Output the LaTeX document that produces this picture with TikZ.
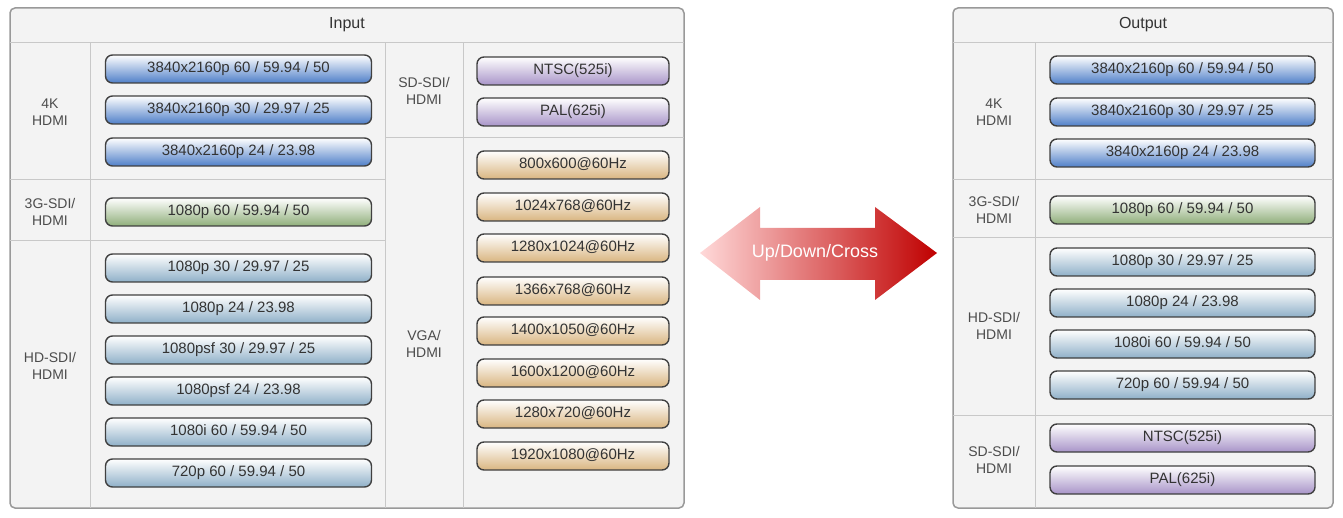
\documentclass[tikz,border=0pt]{standalone}
\usepackage{fontspec}
\setmainfont{Liberation Sans}
\definecolor{cellbg}{HTML}{F3F3F3}
\definecolor{gridc}{HTML}{C8C8C8}
\definecolor{bluep}{HTML}{4F7FC8}
\definecolor{greenp}{HTML}{8FAE7A}
\definecolor{hdp}{HTML}{8FB0C8}
\definecolor{purp}{HTML}{A894C8}
\definecolor{tanp}{HTML}{D9B580}
\tikzset{
 pill/.style={draw=black!75, line width=1.4pt, rounded corners=7pt, minimum height=28pt, inner sep=0pt, text height=10.5pt, text depth=3pt, font=\fontsize{15}{15}\selectfont, text=black!80, top color=white, middle color=#1!45, bottom color=#1},
 lbl/.style={align=center, font=\fontsize{14}{17}\selectfont, text=black!70},
 panel/.style={draw=gray!80, line width=1.5pt, rounded corners=5pt, fill=cellbg},
 grid/.style={draw=gridc, line width=1pt},
 hdr/.style={font=\fontsize{16}{16}\selectfont, text=black!80}
}
\begin{document}
\begin{tikzpicture}[x=1pt,y=-1pt]
\useasboundingbox (0,0) rectangle (1343,518);
% Input panel
\draw[panel] (10,8) rectangle (684,508);
\draw[grid] (10,43) -- (684,43);
\draw[grid] (90,43) -- (90,508);
\draw[grid] (385,43) -- (385,508);
\draw[grid] (463,43) -- (463,508);
\draw[grid] (10,180) -- (385,180);
\draw[grid] (10,241) -- (385,241);
\draw[grid] (385,138) -- (684,138);
\node[hdr] (inh) at (347,25) {Input};
\node[lbl] (l4k) at (50,112) {4K\\HDMI};
\node[lbl] (l3g) at (50,212) {3G-SDI/\\HDMI};
\node[lbl] (lhd) at (50,366) {HD-SDI/\\HDMI};
\node[lbl] (lsd) at (424,91) {SD-SDI/\\HDMI};
\node[lbl] (lvga) at (424,344) {VGA/\\HDMI};
\foreach \y/\t [count=\i] in {69/{3840x2160p 60 / 59.94 / 50},110/{3840x2160p 30 / 29.97 / 25},152/{3840x2160p 24 / 23.98}}
  \node[pill=bluep, minimum width=266pt] (ib\i) at (238.5,\y) {\t};
\node[pill=greenp, minimum width=266pt] (ig) at (238.5,212) {1080p 60 / 59.94 / 50};
\foreach \y/\t [count=\i] in {268/{1080p 30 / 29.97 / 25},309/{1080p 24 / 23.98},350/{1080psf 30 / 29.97 / 25},391/{1080psf 24 / 23.98},432/{1080i 60 / 59.94 / 50},473/{720p 60 / 59.94 / 50}}
  \node[pill=hdp, minimum width=266pt] (ih\i) at (238.5,\y) {\t};
\foreach \y/\t [count=\i] in {71/NTSC(525i),112/PAL(625i)}
  \node[pill=purp, minimum width=192pt] (is\i) at (573,\y) {\t};
\foreach \y/\t [count=\i] in {165/800x600@60Hz,207/1024x768@60Hz,248/1280x1024@60Hz,291/1366x768@60Hz,331/1400x1050@60Hz,373/1600x1200@60Hz,414/1280x720@60Hz,456/1920x1080@60Hz}
  \node[pill=tanp, minimum width=192pt] (iv\i) at (573,\y) {\t};
% Arrow
\path[left color=red!15, right color=red!75!black]
  (700,253) -- (760,207) -- (760,228) -- (875,228) -- (875,207) -- (937,253)
  -- (875,300) -- (875,280) -- (760,280) -- (760,300) -- cycle;
\node[font=\fontsize{18}{18}\selectfont, text=white] (arrt) at (815,253) {Up/Down/Cross};
% Output panel
\draw[panel] (953,8) rectangle (1333,508);
\draw[grid] (953,43) -- (1333,43);
\draw[grid] (1035,43) -- (1035,508);
\draw[grid] (953,180) -- (1333,180);
\draw[grid] (953,238) -- (1333,238);
\draw[grid] (953,415) -- (1333,415);
\node[hdr] (outh) at (1143,25) {Output};
\node[lbl] (o4k) at (994,112) {4K\\HDMI};
\node[lbl] (o3g) at (994,210) {3G-SDI/\\HDMI};
\node[lbl] (ohd) at (994,326) {HD-SDI/\\HDMI};
\node[lbl] (osd) at (994,460) {SD-SDI/\\HDMI};
\foreach \y/\t [count=\i] in {70/{3840x2160p 60 / 59.94 / 50},112/{3840x2160p 30 / 29.97 / 25},153/{3840x2160p 24 / 23.98}}
  \node[pill=bluep, minimum width=265pt] (ob\i) at (1182.5,\y) {\t};
\node[pill=greenp, minimum width=265pt] (og) at (1182.5,210) {1080p 60 / 59.94 / 50};
\foreach \y/\t [count=\i] in {262/{1080p 30 / 29.97 / 25},303/{1080p 24 / 23.98},344/{1080i 60 / 59.94 / 50},385/{720p 60 / 59.94 / 50}}
  \node[pill=hdp, minimum width=265pt] (oh\i) at (1182.5,\y) {\t};
\foreach \y/\t [count=\i] in {438/NTSC(525i),480/PAL(625i)}
  \node[pill=purp, minimum width=265pt] (os\i) at (1182.5,\y) {\t};
\end{tikzpicture}
\end{document}
